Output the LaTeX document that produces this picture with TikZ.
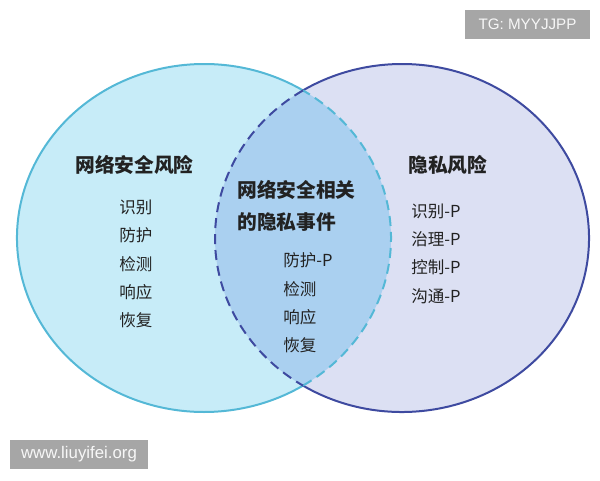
\documentclass[tikz,border=0pt]{standalone}
\usepackage{fontspec}
\setmainfont{Noto Sans CJK SC}
\newfontfamily\markfont{Liberation Sans}
\usepackage{tikz}
\usepackage{xcolor}
\definecolor{cyanfill}{RGB}{199,236,248}
\definecolor{cyanline}{RGB}{84,184,214}
\definecolor{lilacfill}{RGB}{220,224,243}
\definecolor{navyline}{RGB}{62,74,160}
\definecolor{lensfill}{RGB}{170,208,240}
\definecolor{inkgray}{RGB}{34,34,34}
\definecolor{markgray}{RGB}{166,166,166}

\begin{document}
\begin{tikzpicture}[x=0.75pt, y=0.75pt,
    head/.style={anchor=west, inner sep=0pt, font=\fontsize{14.8}{16}\selectfont\bfseries, text=inkgray},
    item/.style={anchor=west, inner sep=0pt, font=\fontsize{12.4}{14}\selectfont, text=inkgray},
    tagbox/.style={fill=markgray, text=white!94!gray, inner sep=0pt}]
    \useasboundingbox (0,0) rectangle (600,480);

    \coordinate (L) at (204,242);
    \coordinate (R) at (402,242);
    \coordinate (top) at (303,389.6);
    \coordinate (bot) at (303,94.4);

    % Circle fills
    \fill[cyanfill] (L) ellipse[x radius=187, y radius=174];
    \fill[lilacfill] (R) ellipse[x radius=187, y radius=174];
    \begin{scope}
        \clip (L) ellipse[x radius=187, y radius=174];
        \fill[lensfill] (R) ellipse[x radius=187, y radius=174];
    \end{scope}

    % Outer arcs
    \draw[cyanline, line width=1.5pt] (top) arc[start angle=58.03, end angle=301.97, x radius=187, y radius=174];
    \draw[navyline, line width=1.5pt] (bot) arc[start angle=-121.97, end angle=121.97, x radius=187, y radius=174];

    % Inner arcs (dashed)
    \draw[cyanline, line width=1.5pt, dash pattern=on 7.5pt off 4.5pt] (bot) arc[start angle=-58.03, end angle=58.03, x radius=187, y radius=174];
    \draw[navyline, line width=1.5pt, dash pattern=on 7.5pt off 4.5pt] (top) arc[start angle=121.97, end angle=238.03, x radius=187, y radius=174];

    % Left set
    \node[head] (cyber) at (75,315) {网络安全风险};
    \node[item] (l1) at (119,273) {识别};
    \node[item] (l2) at (119,245) {防护};
    \node[item] (l3) at (119,216) {检测};
    \node[item] (l4) at (119,188) {响应};
    \node[item] (l5) at (119,160) {恢复};

    % Right set
    \node[head] (privacy) at (408,315) {隐私风险};
    \node[item] (r1) at (411,269) {识别-P};
    \node[item] (r2) at (411,241) {治理-P};
    \node[item] (r3) at (411,213) {控制-P};
    \node[item] (r4) at (411,184) {沟通-P};

    % Overlap
    \node[head] (both1) at (237,290) {网络安全相关};
    \node[head] (both2) at (237,258) {的隐私事件};
    \node[item] (m1) at (283,220) {防护-P};
    \node[item] (m2) at (283,191) {检测};
    \node[item] (m3) at (283,163) {响应};
    \node[item] (m4) at (283,135) {恢复};

    % Watermarks
    \node[tagbox, minimum width=93.75pt, minimum height=21.75pt, font=\markfont\fontsize{11.4}{12}\selectfont] (tg) at (527.5,455.5) {TG: MYYJJPP};
    \node[tagbox, minimum width=103.5pt, minimum height=21.75pt, font=\markfont\fontsize{12.6}{13}\selectfont] (site) at (79,25.5) {www.liuyifei.org};
\end{tikzpicture}
\end{document}
